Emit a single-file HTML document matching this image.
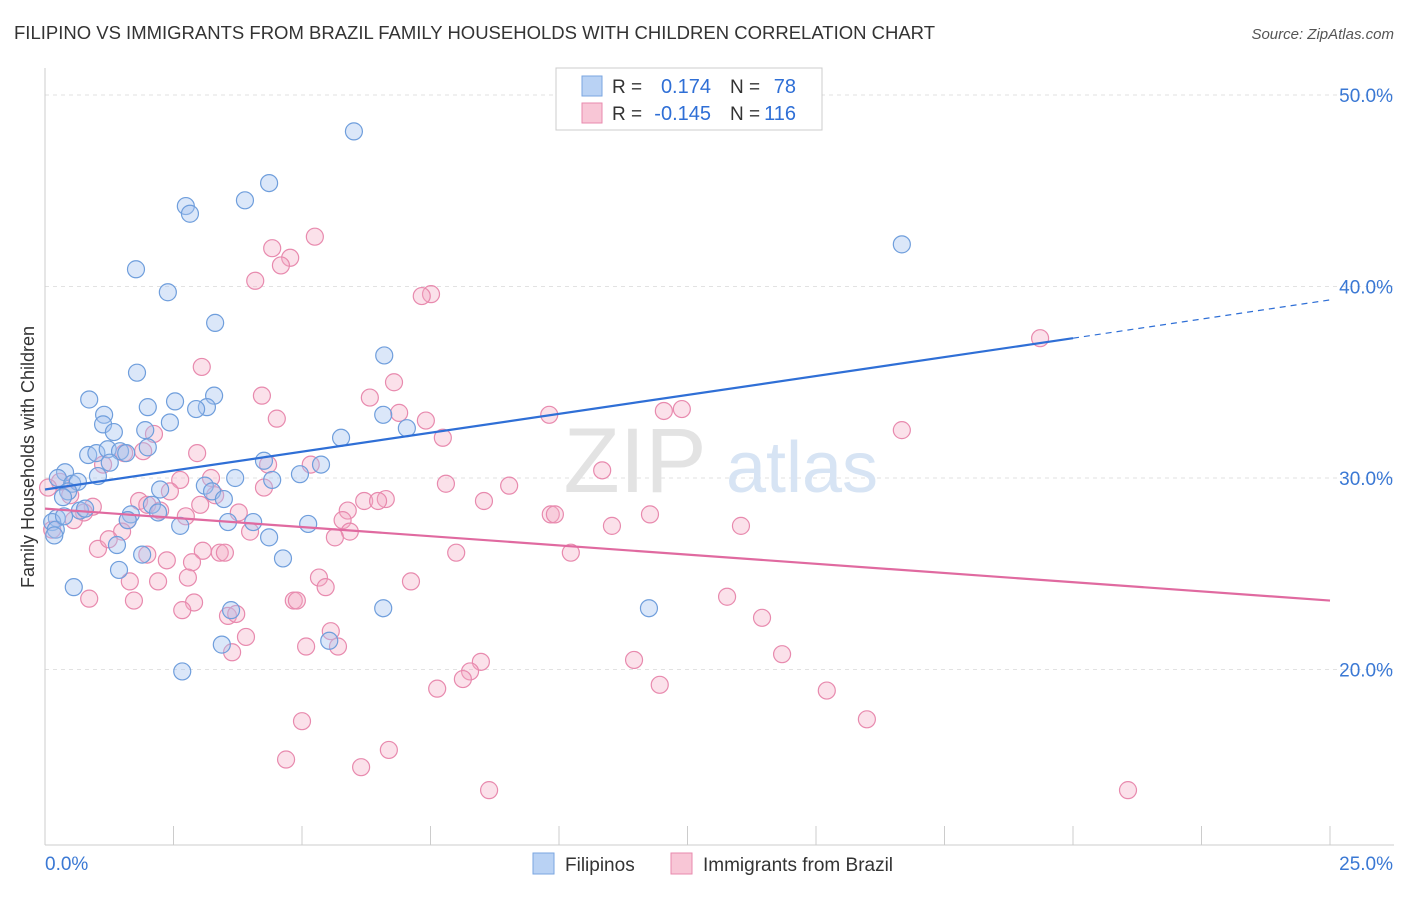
<!DOCTYPE html>
<html><head><meta charset="utf-8">
<style>
body{margin:0;background:#fff;font-family:"Liberation Sans",sans-serif;}
svg text{font-family:"Liberation Sans",sans-serif;}
</style></head>
<body>
<svg id="chart" width="1406" height="892" viewBox="0 0 1406 892" xmlns="http://www.w3.org/2000/svg">
<text x="14" y="39" font-size="18.5" fill="#333">FILIPINO VS IMMIGRANTS FROM BRAZIL FAMILY HOUSEHOLDS WITH CHILDREN CORRELATION CHART</text>
<text x="1394" y="39" font-size="15" fill="#555" text-anchor="end" font-style="italic">Source: ZipAtlas.com</text>
<g id="grid"></g>
<g>
<text x="635" y="492" font-size="92" fill="#e3e3e3" text-anchor="middle" font-family="Liberation Serif">ZIP</text>
<text x="802" y="492" font-size="72" fill="#d7e4f4" text-anchor="middle">atlas</text>
</g>
<g id="axes"></g>
<g id="pts"></g>
<g id="lines"></g>
<text transform="translate(34,457) rotate(-90)" font-size="18" fill="#333" text-anchor="middle">Family Households with Children</text>
<g>
<rect x="556" y="68" width="266" height="62" fill="#fff" stroke="#ccc"/>
<rect x="582" y="76" width="20" height="20" fill="#b9d2f4" stroke="#7aa6e0"/>
<rect x="582" y="103" width="20" height="20" fill="#f8c6d6" stroke="#e88aae"/>
<text x="612" y="93" font-size="19" fill="#333">R =</text>
<text x="711" y="93" font-size="20" fill="#2f6fd6" text-anchor="end">0.174</text>
<text x="730" y="93" font-size="19" fill="#333">N =</text>
<text x="796" y="93" font-size="20" fill="#2f6fd6" text-anchor="end">78</text>
<text x="612" y="120" font-size="19" fill="#333">R =</text>
<text x="711" y="120" font-size="20" fill="#2f6fd6" text-anchor="end">-0.145</text>
<text x="730" y="120" font-size="19" fill="#333">N =</text>
<text x="796" y="120" font-size="20" fill="#2f6fd6" text-anchor="end">116</text>
</g>
<g>
<rect x="533" y="853" width="21" height="21" fill="#b9d2f4" stroke="#7aa6e0"/>
<text x="565" y="871" font-size="19" fill="#333">Filipinos</text>
<rect x="671" y="853" width="21" height="21" fill="#f8c6d6" stroke="#e88aae"/>
<text x="703" y="871" font-size="19" fill="#333">Immigrants from Brazil</text>
</g>
</svg>
<script>
const blueX=[6.01,4.36,3.89,2.74,2.82,16.67,1.77,2.39,3.31,6.6,1.79,3.29,0.86,2.0,2.53,3.15,2.94,1.15,6.58,2.43,1.13,1.34,7.04,1.95,5.76,2.0,0.84,1.0,1.22,1.46,1.58,1.26,4.26,0.39,5.37,4.96,4.42,3.7,1.03,0.25,0.53,0.64,2.24,3.11,3.25,3.48,0.45,0.35,0.68,0.78,2.08,2.2,1.67,0.23,0.14,0.21,0.37,1.61,2.63,3.56,4.05,5.12,0.18,1.4,4.36,1.89,4.63,1.44,0.56,3.62,6.58,11.75,3.44,5.53,2.67];
const blueY=[48.1,45.4,44.5,44.2,43.8,42.2,40.9,39.7,38.1,36.4,35.5,34.3,34.1,33.7,34.0,33.7,33.6,33.3,33.3,32.9,32.8,32.4,32.6,32.5,32.1,31.6,31.2,31.3,31.5,31.4,31.3,30.8,30.9,30.3,30.7,30.2,29.9,30.0,30.1,30.0,29.7,29.8,29.4,29.6,29.3,28.9,29.3,29.0,28.3,28.4,28.6,28.2,28.1,27.9,27.7,27.3,28.0,27.8,27.5,27.7,27.7,27.6,27.0,26.5,26.9,26.0,25.8,25.2,24.3,23.1,23.2,23.2,21.3,21.5,19.9];
const pinkX=[5.25,4.42,4.77,4.59,4.09,7.51,7.33,19.36,3.05,6.79,4.22,6.32,6.89,7.41,9.81,12.04,12.39,4.51,16.67,7.74,2.12,1.91,2.96,1.54,1.13,4.34,5.17,10.84,2.63,3.23,9.03,7.8,4.26,0.29,0.06,2.43,3.31,0.49,1.83,8.54,6.21,6.63,6.48,3.02,0.93,1.99,2.24,5.89,9.84,9.92,11.77,0.76,0.56,2.74,3.77,5.79,1.61,11.03,13.54,0.14,5.93,3.99,1.5,5.64,1.03,1.24,1.99,3.07,3.4,3.5,8.0,10.23,2.37,2.86,5.33,7.12,1.65,2.2,2.78,5.46,0.86,1.73,2.9,4.84,4.9,2.67,13.27,13.95,3.56,3.72,3.91,5.56,5.08,5.7,3.64,14.34,8.48,11.46,8.27,8.13,7.63,11.96,15.21,5.0,15.99,6.69,4.69,6.15,8.64,21.07];
const pinkY=[42.6,42.0,41.5,41.1,40.3,39.6,39.5,37.3,35.8,35.0,34.3,34.2,33.4,33.0,33.3,33.5,33.6,33.1,32.5,32.1,32.3,31.4,31.3,31.3,30.7,30.7,30.7,30.4,29.9,30.0,29.6,29.7,29.5,29.8,29.5,29.3,29.1,29.1,28.8,28.8,28.8,28.9,28.8,28.6,28.5,28.6,28.3,28.3,28.1,28.1,28.1,28.2,27.8,28.0,28.2,27.8,27.8,27.5,27.5,27.3,27.2,27.2,27.2,26.9,26.3,26.8,26.0,26.2,26.1,26.1,26.1,26.1,25.7,25.6,24.8,24.6,24.6,24.6,24.8,24.3,23.7,23.6,23.5,23.6,23.6,23.1,23.8,22.7,22.8,22.9,21.7,22.0,21.2,21.2,20.9,20.8,20.4,20.5,19.9,19.5,19.0,19.2,18.9,17.3,17.4,15.8,15.3,14.9,13.7,13.7];
const yTicks=[50,40,30,20];
const yTickLabels=["50.0%","40.0%","30.0%","20.0%"];
const xTicks=[0,2.5,5,7.5,10,12.5,15,17.5,20,22.5,25];
const blueTrend=[0,29.4,20,37.3,25,39.3];
const pinkTrend=[0,28.4,25,23.6];
const NS="http://www.w3.org/2000/svg";
const X=v=>45+v/25*1285, Y=v=>95+(50-v)*19.15;
function mk(p,t,a){const e=document.createElementNS(NS,t);for(const k in a)e.setAttribute(k,a[k]);document.getElementById(p).appendChild(e);return e;}
yTicks.forEach((t,i)=>{
 const g=mk('grid','line',{x1:45,x2:1394,y1:Y(t),y2:Y(t),stroke:'#e2e2e2','stroke-dasharray':'4,4'});
 
 
 const l=mk('axes','text',{x:1393,y:Y(t)+7,'font-size':19,fill:'#3a78d4','text-anchor':'end'});
 l.textContent=yTickLabels[i];
 
 
});
const ax=mk('axes','line',{x1:45,x2:45,y1:68,y2:845,stroke:'#ccc'});


const bx=mk('axes','line',{x1:45,x2:1394,y1:845,y2:845,stroke:'#ccc'});


xTicks.forEach(t=>{
 const k=mk('axes','line',{x1:X(t),x2:X(t),y1:826,y2:845,stroke:'#ccc'});
 
 
});
const x0=mk('axes','text',{x:45,y:870,'font-size':19,fill:'#3a78d4'});x0.textContent='0.0%';


const x1=mk('axes','text',{x:1393,y:870,'font-size':19,fill:'#3a78d4','text-anchor':'end'});x1.textContent='25.0%';


pinkX.forEach((v,i)=>{
 const c=mk('pts','circle',{cx:X(v),cy:Y(pinkY[i]),r:8.5,fill:'rgba(244,170,196,0.35)',stroke:'#e88aae','stroke-width':1.2});
 
 
});
blueX.forEach((v,i)=>{
 const c=mk('pts','circle',{cx:X(v),cy:Y(blueY[i]),r:8.5,fill:'rgba(164,196,240,0.4)',stroke:'#6f9edc','stroke-width':1.2});
 
 
});
const b1=mk('lines','line',{x1:X(blueTrend[0]),y1:Y(blueTrend[1]),x2:X(blueTrend[2]),y2:Y(blueTrend[3]),stroke:'#2f6fd6','stroke-width':2.2});


const b2=mk('lines','line',{x1:X(blueTrend[2]),y1:Y(blueTrend[3]),x2:X(blueTrend[4]),y2:Y(blueTrend[5]),stroke:'#2f6fd6','stroke-width':1.2,'stroke-dasharray':'6,5'});


const p1=mk('lines','line',{x1:X(pinkTrend[0]),y1:Y(pinkTrend[1]),x2:X(pinkTrend[2]),y2:Y(pinkTrend[3]),stroke:'#e06aa0','stroke-width':2.2});


</script>
</body></html>
